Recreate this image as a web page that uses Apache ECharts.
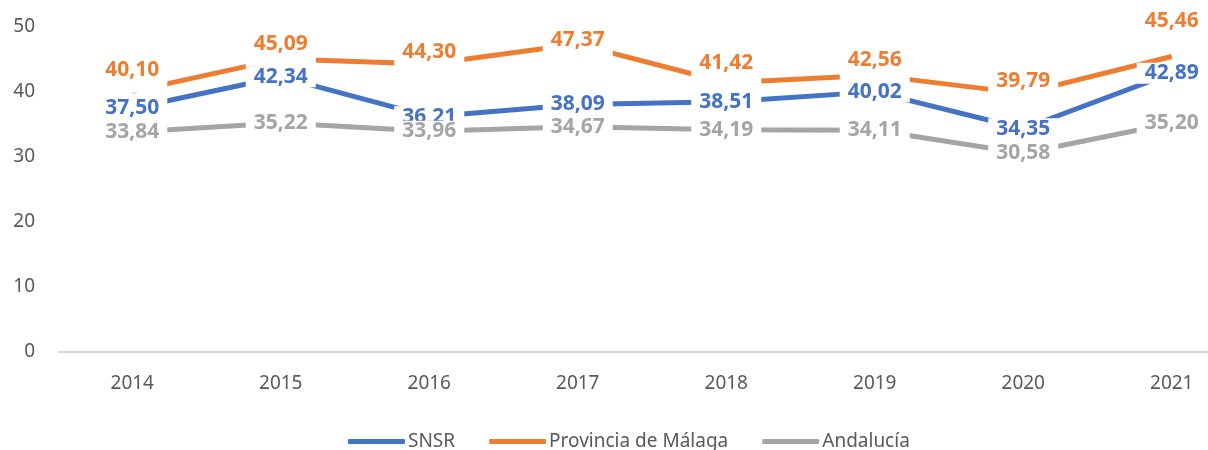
<!DOCTYPE html>
<html>
<head>
<meta charset="utf-8">
<script src="https://cdn.jsdelivr.net/npm/echarts@6/dist/echarts.min.js"></script>
<style>
  html, body { margin: 0; padding: 0; background: #fff; overflow: hidden; }
  /* the Excel plot area runs past the right edge of the picture, so the canvas does too */
  #chart { width: 1246px; height: 450px; }
</style>
</head>
<body>
<div id="chart"></div>
<script>
var years = ['2014', '2015', '2016', '2017', '2018', '2019', '2020', '2021'];
var snsr = [37.50, 42.34, 36.21, 38.09, 38.51, 40.02, 34.35, 42.89];
var malaga = [40.10, 45.09, 44.30, 47.37, 41.42, 42.56, 39.79, 45.46];
var andalucia = [33.84, 35.22, 33.96, 34.67, 34.19, 34.11, 30.58, 35.20];

// vertical shift of the orange labels (Excel placed them by hand)
var malagaLabelDy = [-21, -15, -12, -4, -20, -15, -12, -35];

var font = 'Noto Sans';
var grey = '#595959';

function num(v) {
  return v.toFixed(2).replace('.', ',');
}

function lineSeries(name, values, color) {
  return {
    name: name,
    type: 'line',
    data: values,
    showSymbol: false,
    z: 2,
    lineStyle: { color: color, width: 5 },
    itemStyle: { color: color },
    emphasis: { disabled: true }
  };
}

// labels go in their own series so their white boxes sit over every line.
// tall = the white box reaches down past the text (Excel's "above" labels)
function labelSeries(name, values, color, dys, tall) {
  var shift = tall ? 6 : 0;
  return {
    name: name + ' (etiquetas)',
    type: 'scatter',
    z: 5,
    symbolSize: 1,
    itemStyle: { color: 'rgba(0,0,0,0)', opacity: 1 },
    data: values.map(function (v, i) {
      var item = { value: v };
      if (dys) item.label = { offset: [0, dys[i] + shift] };
      return item;
    }),
    label: {
      show: true,
      position: 'inside',
      formatter: function (p) {
        return tall ? '{t|' + num(p.value) + '}\n{s| }' : num(p.value);
      },
      rich: {
        t: { color: color, fontFamily: font, fontWeight: 'bold', fontSize: 21 },
        s: { fontSize: 1, height: 12 }
      },
      color: color,
      opacity: 1,
      fontFamily: font,
      fontWeight: 'bold',
      fontSize: 21,
      backgroundColor: '#fff',
      padding: [0, 8]
    },
    emphasis: { disabled: true },
    silent: true
  };
}

var chart = echarts.init(document.getElementById('chart'));
chart.setOption({
  animation: false,
  textStyle: { fontFamily: font },
  grid: { left: 58, top: 27, right: 0, height: 325, containLabel: false },
  legend: {
    left: 343,
    top: 427,
    itemWidth: 57,
    itemHeight: 5,
    itemGap: 34,
    icon: 'roundRect',
    textStyle: { color: grey, fontSize: 19, fontFamily: font, padding: [0, 0, 0, -2] },
    data: ['SNSR', 'Provincia de Málaga', 'Andalucía']
  },
  xAxis: {
    type: 'category',
    data: years,
    boundaryGap: true,
    axisLine: { lineStyle: { color: '#d9d9d9', width: 2 } },
    axisTick: { show: false },
    axisLabel: { color: grey, fontSize: 19, margin: 22 }
  },
  yAxis: {
    type: 'value',
    min: 0,
    max: 50,
    interval: 10,
    axisLine: { show: false },
    axisTick: { show: false },
    splitLine: { show: false },
    axisLabel: { color: grey, fontSize: 19, margin: 23 }
  },
  series: [
    lineSeries('SNSR', snsr, '#4472C4'),
    lineSeries('Provincia de Málaga', malaga, '#ED7D31'),
    lineSeries('Andalucía', andalucia, '#A5A5A5'),
    labelSeries('SNSR', snsr, '#4472C4'),
    labelSeries('Provincia de Málaga', malaga, '#ED7D31', malagaLabelDy, true),
    labelSeries('Andalucía', andalucia, '#A5A5A5')
  ]
});
</script>
</body>
</html>
